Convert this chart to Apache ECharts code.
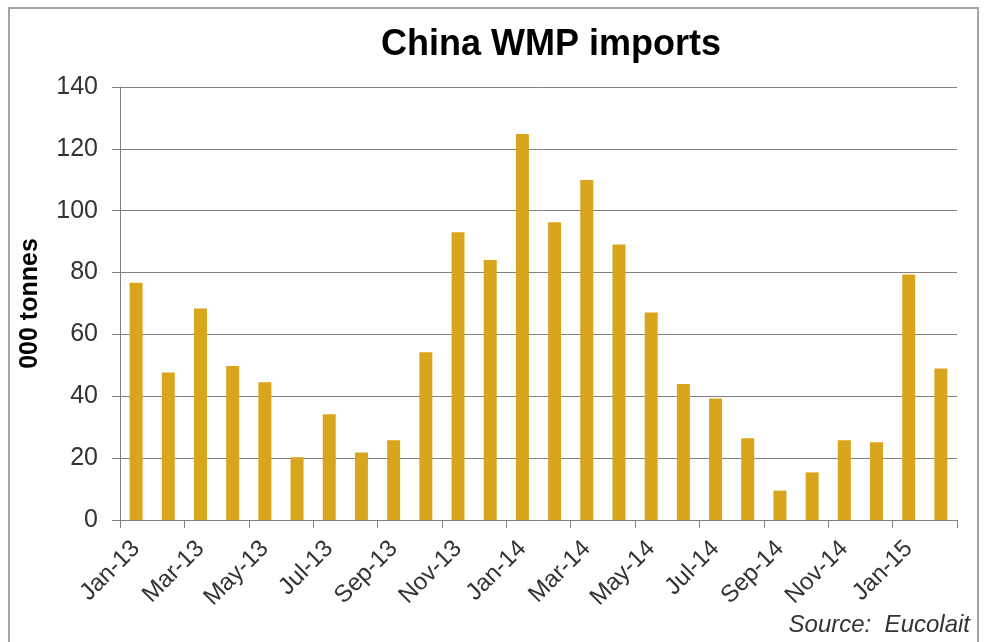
<!DOCTYPE html>
<html>
<head>
<meta charset="utf-8">
<script src="https://cdn.jsdelivr.net/npm/echarts@6/dist/echarts.min.js"></script>
<style>
  html, body { margin: 0; padding: 0; background: #fff; }
  #main { width: 984px; height: 642px; }
</style>
</head>
<body>
<div id="main"></div>
<script>
// monthly categories, Jan-13 .. Feb-15
var months = ['Jan-13', 'Feb-13', 'Mar-13', 'Apr-13', 'May-13', 'Jun-13', 'Jul-13', 'Aug-13',
  'Sep-13', 'Oct-13', 'Nov-13', 'Dec-13', 'Jan-14', 'Feb-14', 'Mar-14', 'Apr-14', 'May-14',
  'Jun-14', 'Jul-14', 'Aug-14', 'Sep-14', 'Oct-14', 'Nov-14', 'Dec-14', 'Jan-15', 'Feb-15'];

// WMP imports, 000 tonnes
var imports = [76.7, 47.7, 68.4, 49.8, 44.5, 20.3, 34.2, 21.8, 25.8, 54.2, 93.0, 84.1,
  124.8, 96.3, 109.9, 89.1, 67.1, 44.0, 39.3, 26.4, 9.5, 15.4, 25.8, 25.1, 79.4, 49.0];

var yTicks = [0, 20, 40, 60, 80, 100, 120, 140];

var font = 'Arial, "Liberation Sans", sans-serif';
var chart = echarts.init(document.getElementById('main'));

var option = {
  backgroundColor: '#fff',
  animation: false,
  title: {
    text: 'China WMP imports',
    left: 546,
    top: 22,
    textAlign: 'center',
    textStyle: {
      fontFamily: font,
      fontWeight: 'bold',
      fontSize: 36,
      color: '#000'
    }
  },
  grid: {
    left: 120,
    right: 27,
    top: 87,
    bottom: 122
  },
  xAxis: {
    type: 'category',
    data: months,
    boundaryGap: true,
    axisLine: {
      show: true,
      lineStyle: { color: '#808080', width: 1 }
    },
    axisTick: {
      show: true,
      interval: 1,
      length: 8,
      lineStyle: { color: '#808080' }
    },
    axisLabel: {
      interval: 1,
      rotate: 45,
      margin: 25,
      fontFamily: font,
      fontSize: 24,
      color: '#333'
    }
  },
  yAxis: {
    type: 'value',
    min: yTicks[0],
    max: yTicks[yTicks.length - 1],
    interval: 20,
    name: '000 tonnes',
    nameLocation: 'middle',
    nameGap: 77,
    nameTextStyle: {
      fontFamily: font,
      fontWeight: 'bold',
      fontSize: 25,
      color: '#000'
    },
    axisLine: {
      show: true,
      lineStyle: { color: '#808080', width: 1 }
    },
    axisTick: {
      show: true,
      length: 8,
      lineStyle: { color: '#808080' }
    },
    axisLabel: {
      margin: 22,
      fontFamily: font,
      fontSize: 25,
      color: '#333'
    },
    splitLine: {
      show: true,
      lineStyle: { color: '#808080', width: 1 }
    }
  },
  series: [{
    name: 'China WMP imports',
    type: 'bar',
    data: imports,
    barWidth: 13,
    itemStyle: { color: '#D9A51C' }
  }],
  graphic: [{
    type: 'rect',
    silent: true,
    shape: { x: 9, y: 8, width: 969, height: 700 },
    style: { fill: 'none', stroke: '#a6a6a6', lineWidth: 2 }
  }, {
    type: 'text',
    silent: true,
    right: 14,
    top: 613,
    style: {
      text: 'Source:  Eucolait',
      fontFamily: font,
      fontStyle: 'italic',
      fontSize: 24,
      fill: '#333'
    }
  }]
};

chart.setOption(option);
</script>
</body>
</html>
